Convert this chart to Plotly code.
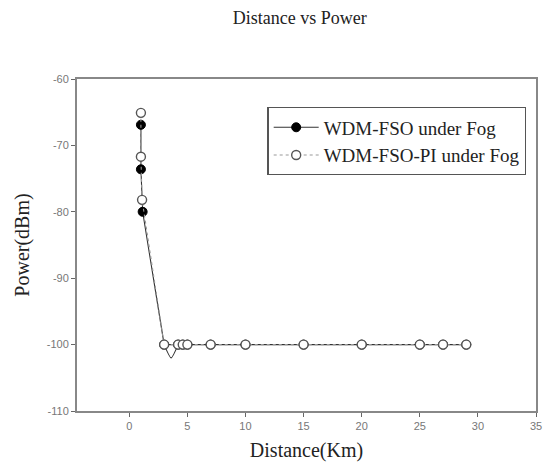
import plotly.graph_objects as go

distance_fso = [1.0, 1.0, 1.15, 3.0, 4.2, 4.6, 5.0, 7.0, 10.0, 15.0, 20.0, 25.0, 27.0, 29.0]
power_fso = [-66.9, -73.6, -80.0, -100, -100, -100, -100, -100, -100, -100, -100, -100, -100, -100]
distance_pi = [1.0, 1.0, 1.1, 3.0, 4.2, 4.6, 5.0, 7.0, 10.0, 15.0, 20.0, 25.0, 27.0, 29.0]
power_pi = [-65.1, -71.7, -78.2, -100, -100, -100, -100, -100, -100, -100, -100, -100, -100, -100]
# curve dip between 3 and 4.2 km (line only)
dip_distance = [3.0, 3.6, 4.2]
dip_power = [-100, -102, -100]

x_tick_values = [0, 5, 10, 15, 20, 25, 30, 35]
y_tick_values = [-110, -100, -90, -80, -70, -60]
y_tick_labels = ["-110", "-100", "-90", "-80", "-70", "-60"]

serif = "Liberation Serif, Times New Roman, serif"
sans = "Liberation Sans, Arial, sans-serif"

fig = go.Figure()
fig.add_trace(go.Scatter(
    x=dip_distance, y=dip_power, mode="lines", showlegend=False, hoverinfo="skip",
    line=dict(color="#333333", width=1.1, shape="spline", smoothing=0.6),
))
fig.add_trace(go.Scatter(
    x=distance_fso, y=power_fso, mode="lines+markers", name="WDM-FSO under Fog",
    line=dict(color="#333333", width=1.1),
    marker=dict(symbol="circle", size=9, color="black", line=dict(color="black", width=1)),
))
fig.add_trace(go.Scatter(
    x=distance_pi, y=power_pi, mode="lines+markers", name="WDM-FSO-PI under Fog",
    line=dict(color="#999999", width=1.1, dash="dot"),
    marker=dict(symbol="circle", size=9, color="white", line=dict(color="#555555", width=1.4)),
))

fig.update_layout(
    width=550, height=473,
    margin=dict(l=77, r=8, t=79, b=62),
    paper_bgcolor="white", plot_bgcolor="white",
    title=dict(text="Distance vs Power", x=0.545, xanchor="center", y=0.962, yanchor="middle",
               font=dict(family=serif, size=18, color="#222222")),
    showlegend=True,
    legend=dict(x=0.415, y=0.915, xanchor="left", yanchor="top",
                bordercolor="#555555", borderwidth=1.2, bgcolor="white",
                font=dict(family=serif, size=19, color="#222222"),
                tracegroupgap=0, itemwidth=45),
    xaxis=dict(range=[-4.5, 35], tickvals=x_tick_values,
               showgrid=False, zeroline=False, showline=True, linecolor="#888888", linewidth=2,
               mirror=True, ticks="outside", ticklen=4, tickcolor="#666666",
               tickfont=dict(family=sans, size=11, color="#777777"),
               title=dict(text="Distance(Km)", font=dict(family=serif, size=20, color="#222222"), standoff=12)),
    yaxis=dict(range=[-110, -60], tickvals=y_tick_values, ticktext=y_tick_labels,
               showgrid=False, zeroline=False, showline=True, linecolor="#888888", linewidth=2,
               mirror=True, ticks="outside", ticklen=4, tickcolor="#666666",
               tickfont=dict(family=sans, size=11, color="#777777"),
               title=dict(text="Power(dBm)", font=dict(family=serif, size=20, color="#222222"), standoff=12)),
)

fig.write_html("out.html")
